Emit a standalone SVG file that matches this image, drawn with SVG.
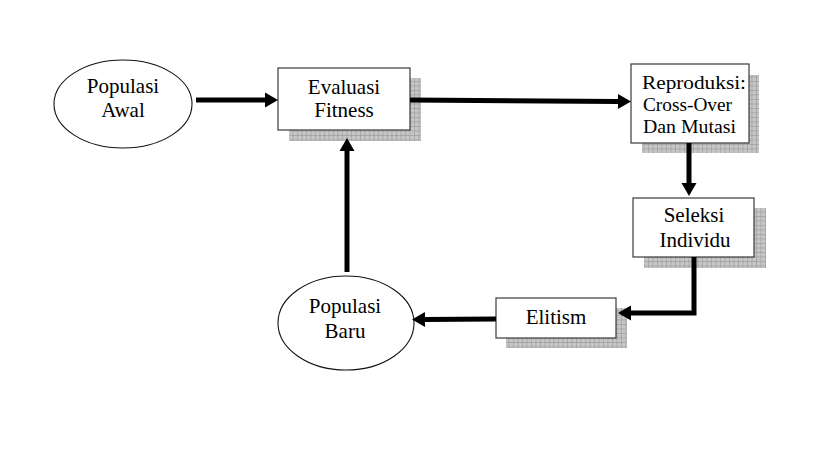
<svg xmlns="http://www.w3.org/2000/svg" width="819" height="460" viewBox="0 0 819 460">
<defs>
<pattern id="grid" patternUnits="userSpaceOnUse" width="4.5" height="4.5">
<rect width="4.5" height="4.5" fill="#c6c6c6"/>
<path d="M0,0.3 H4.5 M0.3,0 V4.5" stroke="#959595" stroke-width="0.7" fill="none"/>
</pattern>
<marker id="ah" markerUnits="userSpaceOnUse" markerWidth="13" markerHeight="16" refX="0" refY="7.5" orient="auto" overflow="visible">
<path d="M0,0 L13,7.5 L0,15 z" fill="#000"/>
</marker>
<style>
.shadow{fill:url(#grid);}
.box{fill:#fff;stroke:#3a3a3a;stroke-width:1.2;}
.ell{fill:#fff;stroke:#111;stroke-width:1.1;}
.t{font-size:21px;fill:#000;text-anchor:middle;}
.ts{font-size:18px;fill:#000;}
.c{fill:none;stroke:#000;stroke-width:5;marker-end:url(#ah);}
</style>
</defs>
<rect width="819" height="460" fill="#fff"/>
<g font-family="Liberation Serif, Times New Roman, serif">
<g id="populasi-awal">
<ellipse class="ell" cx="123" cy="104" rx="69" ry="44"/>
<text class="t" x="123" y="93">Populasi</text>
<text class="t" x="123" y="117">Awal</text>
</g>

<g id="evaluasi-fitness">
<rect class="shadow" x="289" y="78" width="132" height="63"/>
<rect class="box" x="278" y="68" width="132" height="62"/>
<text class="t" x="344" y="94">Evaluasi</text>
<text class="t" x="344" y="117">Fitness</text>
</g>

<g id="reproduksi">
<rect class="shadow" x="642" y="75" width="117" height="78"/>
<rect class="box" x="631" y="64" width="118" height="79"/>
<text class="ts" x="642" y="88.5" textLength="104" lengthAdjust="spacingAndGlyphs">Reproduksi:</text>
<text class="ts" x="643" y="110.5" textLength="89" lengthAdjust="spacingAndGlyphs">Cross-Over</text>
<text class="ts" x="643" y="132.5" textLength="93" lengthAdjust="spacingAndGlyphs">Dan Mutasi</text>
</g>

<g id="seleksi-individu">
<rect class="shadow" x="644" y="208" width="122" height="60"/>
<rect class="box" x="633" y="198" width="121" height="59"/>
<text class="t" x="694" y="222">Seleksi</text>
<text class="t" x="695" y="247">Individu</text>
</g>

<g id="elitism">
<rect class="shadow" x="506" y="308" width="121" height="40"/>
<rect class="box" x="496" y="298" width="120" height="40"/>
<text class="t" x="556" y="323.5">Elitism</text>
</g>

<g id="populasi-baru">
<ellipse class="ell" cx="346" cy="323" rx="68" ry="47"/>
<text class="t" x="345" y="313">Populasi</text>
<text class="t" x="345" y="338">Baru</text>
</g>
</g>
<g id="connectors">
<path class="c" d="M196,100 L265,100"/>
<path class="c" d="M410,100 L618,101.5"/>
<path class="c" d="M689,143 L689,183"/>
<path class="c" d="M694,257 L694,313 L631,313"/>
<path class="c" d="M496,319 L425,319.5"/>
<path class="c" d="M347,272 L347,151"/>
</g>
</svg>
